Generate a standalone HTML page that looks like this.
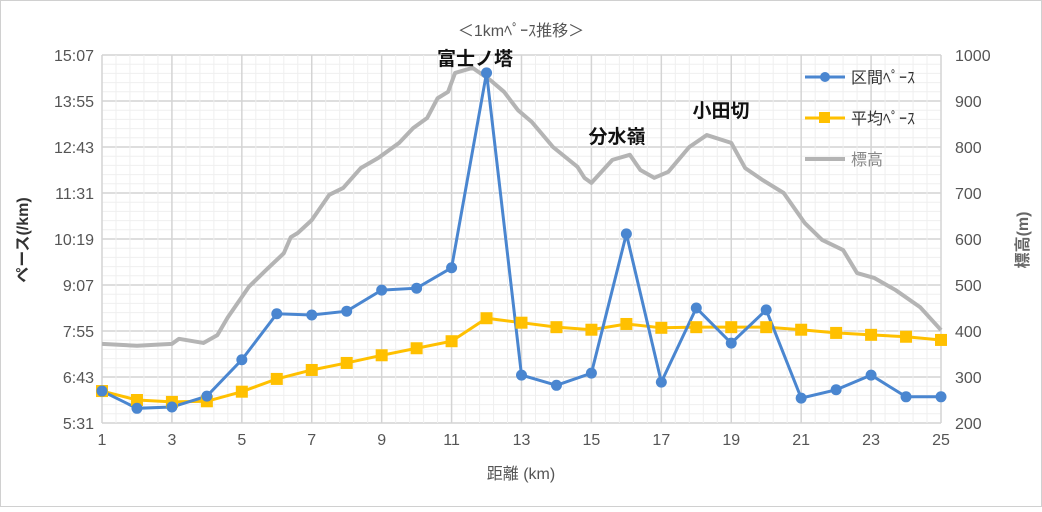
<!DOCTYPE html>
<html><head><meta charset="utf-8"><style>
body{margin:0;background:#fff;}
svg text{font-family:"Liberation Sans","Noto Sans CJK JP",sans-serif;}
</style></head><body>
<svg id="c" width="1042" height="507" xmlns="http://www.w3.org/2000/svg">
<rect x="0.5" y="0.5" width="1041" height="506" fill="#fff" stroke="#d0d0d0"/>
<text x="521" y="36" text-anchor="middle" font-size="16" fill="#555">＜1kmﾍﾟｰｽ推移＞</text>
<g id="grid"></g><g id="axes"></g><g id="series"></g>
<text x="475" y="65" text-anchor="middle" font-size="19" font-weight="bold" fill="#111">富士ノ塔</text>
<text x="617" y="143" text-anchor="middle" font-size="19" font-weight="bold" fill="#111">分水嶺</text>
<text x="721" y="117" text-anchor="middle" font-size="19" font-weight="bold" fill="#111">小田切</text>
<text x="521" y="479" text-anchor="middle" font-size="16" fill="#555">距離 (km)</text>
<text transform="translate(28,240) rotate(-90)" text-anchor="middle" font-size="16" fill="#333" font-weight="bold">ペース(/km)</text>
<text transform="translate(1028,240) rotate(-90)" text-anchor="middle" font-size="16" fill="#666" font-weight="bold">標高(m)</text>
<g>
<line x1="805" y1="77" x2="845" y2="77" stroke="#4a86d0" stroke-width="3"/><circle cx="825" cy="77" r="5" fill="#4a86d0"/>
<text x="851" y="83" font-size="16" fill="#333">区間ﾍﾟｰｽ</text>
<line x1="805" y1="118" x2="845" y2="118" stroke="#ffc000" stroke-width="3"/><rect x="819" y="112" width="11" height="11" fill="#ffc000"/>
<text x="851" y="124" font-size="16" fill="#333">平均ﾍﾟｰｽ</text>
<line x1="805" y1="159" x2="845" y2="159" stroke="#b4b4b4" stroke-width="4"/>
<text x="851" y="165" font-size="16" fill="#888">標高</text>
</g>
</svg>
<script>
const kms=[1,2,3,4,5,6,7,8,9,10,11,12,13,14,15,16,17,18,19,20,21,22,23,24,25];
const sectionPace=[381,354,356,373,430,502,500,506,539,542,574,879,406,390,409,627,395,511,456,508,370,383,406,372,372];
const avgPace=[381,367,364,365,380,400,414,425,437,448,459,495,488,481,477,486,480,481,481,481,477,472,469,466,461];
const elevKm=[1,2,3,3.2,3.9,4.3,4.6,5.2,5.7,6.2,6.4,6.6,7.0,7.5,7.9,8.4,8.9,9.5,9.9,10.3,10.6,10.9,11.1,11.6,12.1,12.5,12.9,13.3,13.9,14.6,14.8,15.0,15.6,16.1,16.4,16.8,17.2,17.8,18.3,19.0,19.4,19.9,20.5,21.1,21.6,22.2,22.6,23.1,23.7,24.4,25];
const elevM=[372,368,372,383,374,391,430,496,533,569,604,613,641,696,711,754,776,809,841,863,906,920,961,972,946,920,880,854,800,757,733,722,772,783,750,733,746,800,826,809,754,728,700,635,598,576,526,515,489,452,402];
const leftTicks=["5:31","6:43","7:55","9:07","10:19","11:31","12:43","13:55","15:07"];
const rightTicks=[200,300,400,500,600,700,800,900,1000];
const xTicks=[1,3,5,7,9,11,13,15,17,19,21,23,25];
const L=102,R=941,T=55,B=423,NS="http://www.w3.org/2000/svg";
const xS=k=>L+(k-1)*(R-L)/24;
const yP=s=>B-(s-331)*(B-T)/576;
const yE=m=>B-(m-200)*(B-T)/800;
function mk(t,a,p){const e=document.createElementNS(NS,t);for(const k in a)e.setAttribute(k,a[k]);p.appendChild(e);return e;}
const g=document.getElementById('grid'),ax=document.getElementById('axes'),se=document.getElementById('series');
for(let i=0;i<=40;i++){const y=B-i*(B-T)/40;const l=mk('line',{x1:L,x2:R,y1:y,y2:y,stroke:i%5?'#efefef':'#d4d4d4','stroke-width':i%5?1:1.5},g);

}
for(let i=0;i<=60;i++){const x=L+i*(R-L)/60;const l=mk('line',{x1:x,x2:x,y1:T,y2:B,stroke:i%5?'#efefef':'#d4d4d4','stroke-width':i%5?1:1.5},g);

}
leftTicks.forEach((t,i)=>{const e=mk('text',{x:L-8,y:B-i*(B-T)/8+6,'text-anchor':'end','font-size':16,fill:'#555'},ax);e.textContent=t;

});
rightTicks.forEach(t=>{const e=mk('text',{x:R+14,y:yE(t)+6,'font-size':16,fill:'#555'},ax);e.textContent=t;

});
xTicks.forEach(t=>{const e=mk('text',{x:xS(t),y:B+22,'text-anchor':'middle','font-size':16,fill:'#555'},ax);e.textContent=t;

});
const ep=mk('polyline',{points:elevKm.map((k,i)=>xS(k)+','+yE(elevM[i])).join(' '),fill:'none',stroke:'#b4b4b4','stroke-width':4,'stroke-linejoin':'round'},se);


const ap=mk('polyline',{points:kms.map((k,i)=>xS(k)+','+yP(avgPace[i])).join(' '),fill:'none',stroke:'#ffc000','stroke-width':3},se);


const sp=mk('polyline',{points:kms.map((k,i)=>xS(k)+','+yP(sectionPace[i])).join(' '),fill:'none',stroke:'#4a86d0','stroke-width':3},se);


kms.forEach((k,i)=>{const r=mk('rect',{x:xS(k)-6,y:yP(avgPace[i])-6,width:12,height:12,fill:'#ffc000'},se);

});
kms.forEach((k,i)=>{const c=mk('circle',{cx:xS(k),cy:yP(sectionPace[i]),r:5.5,fill:'#4a86d0'},se);

});
</script>
</body></html>
